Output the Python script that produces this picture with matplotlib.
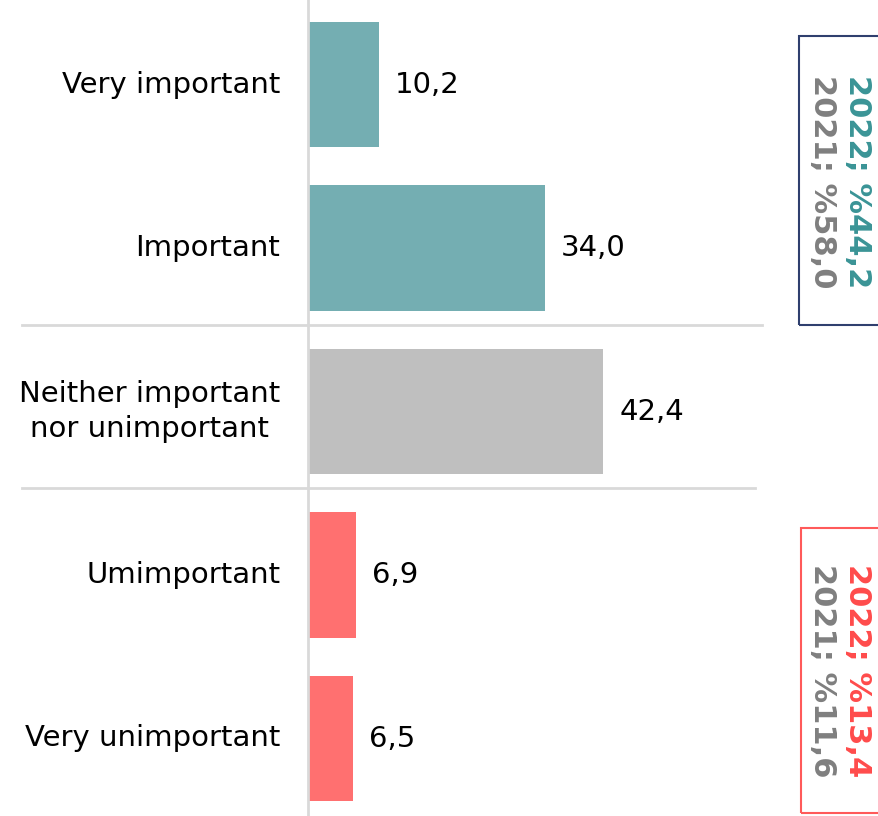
import matplotlib.pyplot as plt
from matplotlib.patches import Rectangle

OUT_FILE = "out.png"

categories = ["Very important", "Important", "Neither important\nnor unimportant",
              "Umimportant", "Very unimportant"]
values = [10.2, 34.0, 42.4, 6.9, 6.5]
bar_colors = ["#74aeb2", "#74aeb2", "#bfbfbf", "#ff7070", "#ff7070"]

top_box_lines = ["2022; %44,2", "2021; %58,0"]
bottom_box_lines = ["2022; %13,4", "2021; %11,6"]

TEAL_TXT = "#3a9496"
RED_TXT = "#ff4b4b"
GRAY_TXT = "#7f7f7f"
LINE_GRAY = "#d9d9d9"


def fmt(v):
    return f"{v:.1f}".replace(".", ",")


def main():
    fig = plt.figure(figsize=(8.79, 8.16), dpi=100)
    ax = fig.add_axes([0, 0, 1, 1])
    ax.set_axis_off()

    px_per_unit = 6.96
    ax.set_xlim(-308 / px_per_unit, (879 - 308) / px_per_unit)
    ax.set_ylim((816 - 84.5) / 163.5, -84.5 / 163.5)

    ypos = list(range(len(categories)))
    ax.barh(ypos, values, height=0.765, color=bar_colors, zorder=2)

    ax.axvline(0, color=LINE_GRAY, lw=2, zorder=3)

    for y, v, lab in zip(ypos, values, categories):
        ax.annotate(fmt(v), (v, y), xytext=(11.5, 0), textcoords="offset points",
                    ha="left", va="center", fontsize=21, color="black")
        ax.annotate(lab, (0, y), xytext=(-20, 0), textcoords="offset points",
                    ha="right", va="center", ma="center", fontsize=21,
                    color="black", linespacing=1.3)

    # group separators
    ax.plot([-41.1, 65.2], [1.47, 1.47], color=LINE_GRAY, lw=2, zorder=1)
    ax.plot([-41.1, 64.2], [2.47, 2.47], color=LINE_GRAY, lw=2, zorder=1)

    # summary boxes
    fig.patches.append(Rectangle((799 / 879, 1 - 325 / 816), 0.2, 289 / 816,
                                 transform=fig.transFigure, fill=False,
                                 edgecolor="#2f3f6e", lw=1.5))
    fig.patches.append(Rectangle((801 / 879, 1 - 813 / 816), 0.2, 285 / 816,
                                 transform=fig.transFigure, fill=False,
                                 edgecolor="#ff5a5a", lw=1.5))

    fig.text(858 / 879, 1 - 182 / 816, top_box_lines[0], rotation=270,
             ha="center", va="center", fontsize=22, fontweight="bold", color=TEAL_TXT)
    fig.text(823 / 879, 1 - 182 / 816, top_box_lines[1], rotation=270,
             ha="center", va="center", fontsize=22, fontweight="bold", color=GRAY_TXT)
    fig.text(858 / 879, 1 - 671 / 816, bottom_box_lines[0], rotation=270,
             ha="center", va="center", fontsize=22, fontweight="bold", color=RED_TXT)
    fig.text(823 / 879, 1 - 671 / 816, bottom_box_lines[1], rotation=270,
             ha="center", va="center", fontsize=22, fontweight="bold", color=GRAY_TXT)

    fig.savefig(OUT_FILE, dpi=100)


if __name__ == "__main__":
    main()
